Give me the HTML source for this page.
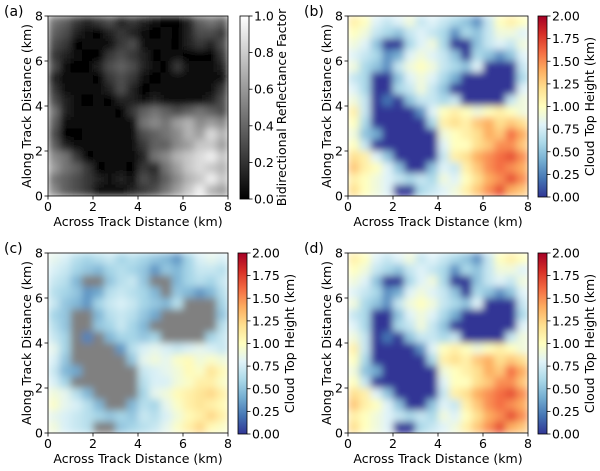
<!DOCTYPE html>
<html><head><meta charset="utf-8"><style>
body{margin:0;background:#fff;}
svg{display:block;font-family:"DejaVu Sans","Liberation Sans",sans-serif;}
</style></head><body>
<svg id="fig" width="600" height="471" viewBox="0 0 600 471" xmlns="http://www.w3.org/2000/svg">
<defs>
<filter id="blur" x="0" y="0" width="1" height="1"><feGaussianBlur stdDeviation="3.6" edgeMode="duplicate"/></filter>
<filter id="blur2" x="0" y="0" width="1" height="1"><feGaussianBlur stdDeviation="3.6" edgeMode="duplicate"/></filter>
<linearGradient id="gGray" x1="0" y1="1" x2="0" y2="0"><stop offset="0" stop-color="#000"/><stop offset="1" stop-color="#fff"/></linearGradient>
<linearGradient id="gRdYlBu" x1="0" y1="1" x2="0" y2="0">
<stop offset="0" stop-color="#313695"/><stop offset="0.1" stop-color="#4575b4"/><stop offset="0.2" stop-color="#74add1"/><stop offset="0.3" stop-color="#abd9e9"/><stop offset="0.4" stop-color="#e0f3f8"/><stop offset="0.5" stop-color="#ffffbf"/><stop offset="0.6" stop-color="#fee090"/><stop offset="0.7" stop-color="#fdae61"/><stop offset="0.8" stop-color="#f46d43"/><stop offset="0.9" stop-color="#d73027"/><stop offset="1" stop-color="#a50026"/>
</linearGradient>
</defs>
</svg>
<script>
// Cloud top height grid (km), rows from top (8 km) to bottom (0 km), 0.5 km cells
const heightRows = [
[1.1,1.0,0.8,0.7,0.8,0.9,0.7,0.8,0.7,0.6,0.5,0.3,0.7,1.0,1.1,1.0],
[1.0,0.9,0.7,0.6,0.5,0.7,0.8,0.7,0.6,0.3,0.6,0.5,0.7,0.9,0.9,0.8],
[0.9,0.8,0.5,0,0,0.6,0.8,0.9,0.6,0,0,0.5,0.7,0.8,0.7,0.9],
[0.8,0.7,0.6,0.3,0.4,0.8,0.9,0.8,0.7,0.5,0,0.6,0.5,0.3,0.5,0.8],
[0.9,0.6,0.5,0.3,0.7,0.9,1.0,0.9,0.7,0.6,0.5,0.8,0,0,0,0.7],
[0.7,0.6,0,0,0.5,0.8,0.9,0.8,0.6,0.4,0,0,0,0,0,0.6],
[0.8,0.6,0,0,0.6,0.7,0.9,0.7,0.5,0,0,0,0,0,0,0.8],
[0.9,0.7,0,0.2,0,0.5,0.7,0.7,0.6,0.7,0,0,0,0,0.7,0.9],
[1.1,0.7,0,0,0,0,0.3,0.8,1.0,1.1,1.0,0.9,1.0,1.1,1.0,0.9],
[1.0,0.6,0,0,0,0,0,0.6,1.1,1.2,1.1,1.3,1.4,1.2,1.3,1.2],
[0.9,0.5,0.4,0,0,0,0,0,0.9,1.0,1.1,1.2,1.4,1.3,1.6,1.4],
[1.0,0.7,0,0,0,0,0,0,0.8,1.0,1.0,1.2,1.3,1.5,1.5,1.3],
[1.2,1.1,0.8,0.5,0,0,0,0,0.7,1.1,1.2,1.4,1.5,1.6,1.7,1.5],
[1.3,1.1,1.0,0.8,0.5,0,0,0.5,0.8,0.7,1.1,1.3,1.5,1.6,1.5,1.4],
[1.1,1.0,0.9,0.8,0.7,0.6,0.7,0.6,0.9,0.8,1.0,1.2,1.4,1.5,1.7,1.5],
[1.2,1.0,0.9,0.8,0,0,0.6,0.7,0.8,0.9,1.1,1.3,1.5,1.7,1.4,1.3]
];
const axisTicks = [0,2,4,6,8];
const grayTicks = ["0.0","0.2","0.4","0.6","0.8","1.0"];
const heightTicks = ["0.00","0.25","0.50","0.75","1.00","1.25","1.50","1.75","2.00"];
const panelLetters = ["(a)","(b)","(c)","(d)"];

const NS="http://www.w3.org/2000/svg";
const svg=document.getElementById('fig');
function mk(tag,attrs,parent){const e=document.createElementNS(NS,tag);for(const k in attrs)e.setAttribute(k,attrs[k]);(parent||svg).appendChild(e);return e;}
const stops=[[49,54,149],[69,117,180],[116,173,209],[171,217,233],[224,243,248],[255,255,191],[254,224,144],[253,174,97],[244,109,67],[215,48,39],[165,0,38]];
function rdylbu(t){t=Math.max(0,Math.min(1,t))*10;const i=Math.min(9,Math.floor(t)),f=t-i;const a=stops[i],b=stops[i+1];return `rgb(${a.map((v,k)=>Math.round(v+(b[k]-v)*f)).join(',')})`;}
function gray(t){t=Math.max(0,Math.min(1,t));const v=Math.round(t*255);return `rgb(${v},${v},${v})`;}

const panels=[
 {x:48,y:16,mode:'a'},{x:348,y:16,mode:'b'},{x:48,y:253,mode:'c'},{x:348,y:253,mode:'d'}
];
const W=180,H=180,FS=12.5;
panels.forEach((p,pi)=>{
  const xs=v=>p.x+v/8*W, ys=v=>p.y+H-v/8*H;
  const g=mk('g',{});
  
  
  const clipId='clip'+pi;
  const cp=mk('clipPath',{id:clipId},g);mk('rect',{x:p.x,y:p.y,width:W,height:H},cp);
  const outer=mk('g',{'clip-path':`url(#${clipId})`},g);
  const hm=mk('g',{filter:p.mode==='a'?'url(#blur2)':'url(#blur)'},outer);
  
  
  const n=heightRows.length, m=heightRows[0].length;
  heightRows.forEach((row,r)=>{
    row.forEach((h,c)=>{
      let col;
      if(p.mode==='a') col = h===0?gray(0.03):gray(0.02+(h-0.55)*0.8);
      else if(p.mode==='b') col = rdylbu(h/2);
      else if(p.mode==='c') col = h===0?'#808080':rdylbu((0.45+0.65*(h-0.5))/2);
      else col = rdylbu(h/2);
      const x0=c*8/m, y1=8-r*8/n;
      const cell=mk('rect',{x:xs(x0),y:ys(y1),width:W/m+0.6,height:H/n+0.6,fill:col},hm);
      
      
    });
  });
  mk('rect',{x:p.x,y:p.y,width:W,height:H,fill:'none',stroke:'#000','stroke-width':0.8},g);
  axisTicks.forEach(t=>{
    mk('line',{x1:xs(t),x2:xs(t),y1:p.y+H,y2:p.y+H+3.5,stroke:'#000','stroke-width':0.8},g);
    const tx=mk('text',{x:xs(t),y:p.y+H+15,'font-size':FS,'text-anchor':'middle'},g);tx.textContent=t;
    
    
    mk('line',{x1:p.x-3.5,x2:p.x,y1:ys(t),y2:ys(t),stroke:'#000','stroke-width':0.8},g);
    const ty=mk('text',{x:p.x-5,y:ys(t)+4.5,'font-size':FS,'text-anchor':'end'},g);ty.textContent=t;
    
    
  });
  const xl=mk('text',{x:p.x+W/2,y:p.y+H+30,'font-size':FS,'text-anchor':'middle'},g);xl.textContent='Across Track Distance (km)';
  
  
  const yl=mk('text',{x:0,y:0,'font-size':FS,'text-anchor':'middle',transform:`translate(${p.x-17},${p.y+H/2}) rotate(-90)`},g);yl.textContent='Along Track Distance (km)';
  
  
  const lt=mk('text',{x:p.x-44,y:p.y,'font-size':14},g);lt.textContent=panelLetters[pi];
  
  
  // colorbar
  const cbx=p.mode==='a'?240:(p.x+190), cby=p.y, cbh=p.mode==='a'?183:181;
  const cb=mk('rect',{x:cbx,y:cby,width:9,height:cbh,fill:p.mode==='a'?'url(#gGray)':'url(#gRdYlBu)',stroke:'#000','stroke-width':0.8},g);
  
  
  const ticks=p.mode==='a'?grayTicks:heightTicks;
  ticks.forEach((t,i)=>{
    const yy=cby+cbh-i/(ticks.length-1)*cbh;
    mk('line',{x1:cbx+9,x2:cbx+12.5,y1:yy,y2:yy,stroke:'#000','stroke-width':0.8},g);
    const tt=mk('text',{x:cbx+14,y:yy+4.5,'font-size':FS},g);tt.textContent=t;
    
    
  });
  const cl=mk('text',{x:0,y:0,'font-size':FS,'text-anchor':'middle',transform:`translate(${p.mode==='a'?cbx+46:cbx+56},${cby+cbh/2}) rotate(-90)`},g);
  cl.textContent=p.mode==='a'?'Bidirectional Reflectance Factor':'Cloud Top Height (km)';
  
  
});
</script>
</body></html>
